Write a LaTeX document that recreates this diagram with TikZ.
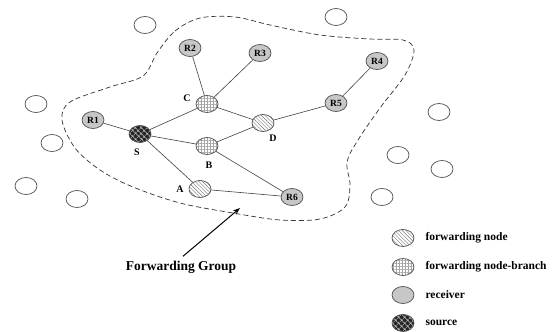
\documentclass[tikz,border=0pt]{standalone}
\usepackage{fontspec}
\setmainfont{Liberation Serif}
\usetikzlibrary{patterns,patterns.meta,arrows.meta,shapes.geometric}
\begin{document}
\begin{tikzpicture}[x=1pt,y=-1pt,
  nd/.style={ellipse, draw=black!70, line width=0.7pt, minimum width=22pt, minimum height=17pt, inner sep=0pt},
  rcv/.style={nd, fill=black!22, font=\bfseries\fontsize{9.5}{9.5}\selectfont},
  fwd/.style={nd, pattern={Lines[angle=-45,distance=2.6pt,line width=0.4pt]}, pattern color=black!55},
  brn/.style={nd, pattern={Hatch[angle=0,distance=3pt,line width=0.4pt]}, pattern color=black!35},
  src/.style={nd, preaction={fill=black!85}, pattern={Hatch[angle=45,distance=4pt,line width=0.6pt]}, pattern color=black!25},
  emp/.style={nd},
  edge/.style={draw=black!75, line width=0.6pt},
  lbl/.style={font=\bfseries\fontsize{10}{10}\selectfont},
  leg/.style={anchor=west, font=\bfseries\fontsize{11.5}{11.5}\selectfont}]
\useasboundingbox (0,0) rectangle (558,332);

% forwarding group boundary
\draw[black!80, line width=0.7pt, dash pattern=on 5pt off 3pt]
  plot[smooth cycle, tension=0.55] coordinates {
  (157,53) (175,31) (200,18) (235,17) (270,25) (320,35) (370,39) (403,40)
  (414,50) (405,75) (380,108) (358,140) (347,162) (350,185) (345,207)
  (320,219) (280,220) (233,213) (180,203) (133,187) (100,170) (75,148)
  (62,120) (70,102) (110,87) (143,76)};

% empty nodes
\node[emp] (e1) at (145,25) {};
\node[emp] (e2) at (336,17) {};
\node[emp] (e3) at (36,104) {};
\node[emp] (e4) at (52,143) {};
\node[emp] (e5) at (26,186) {};
\node[emp] (e6) at (77,199) {};
\node[emp] (e7) at (439,112) {};
\node[emp] (e8) at (398,155) {};
\node[emp] (e9) at (442,169) {};
\node[emp] (e10) at (382,197) {};

% network nodes
\node[rcv] (R1) at (93,120) {R1};
\node[rcv] (R2) at (190,48) {R2};
\node[rcv] (R3) at (260,53) {R3};
\node[rcv] (R4) at (377,61) {R4};
\node[rcv] (R5) at (336,103) {R5};
\node[rcv] (R6) at (292,197) {R6};
\node[src] (S) at (140,134) {};
\node[brn] (C) at (207,104) {};
\node[brn] (B) at (207,146) {};
\node[fwd] (D) at (263,123) {};
\node[fwd] (A) at (200,189) {};

\node[lbl] (lS) at (137,152) {S};
\node[lbl] (lC) at (187,98) {C};
\node[lbl] (lB) at (209,165) {B};
\node[lbl] (lD) at (273,138) {D};
\node[lbl] (lA) at (180,189) {A};

% edges
\draw[edge] (R2) -- (C);
\draw[edge] (R3) -- (C);
\draw[edge] (C) -- (S);
\draw[edge] (C) -- (D);
\draw[edge] (R1) -- (S);
\draw[edge] (S) -- (B);
\draw[edge] (S) -- (A);
\draw[edge] (B) -- (D);
\draw[edge] (B) -- (R6);
\draw[edge] (D) -- (R5);
\draw[edge] (R5) -- (R4);
\draw[edge] (A) -- (R6);

% forwarding group label
\node[font=\bfseries\fontsize{13.5}{13.5}\selectfont] (fg) at (181,267) {Forwarding Group};
\coordinate (fgtip) at (240,208);
\draw[line width=1pt, -{Stealth[length=7pt,width=5pt]}] (fg.north) ++(2,-1) -- (fgtip);

% legend
\node[fwd] (k1) at (403,238) {};
\node[brn] (k2) at (403,267) {};
\node[nd, fill=black!22] (k3) at (403,295) {};
\node[src] (k4) at (403,323) {};
\node[leg] (t1) at (422,238) {forwarding node};
\node[leg] (t2) at (422,267) {forwarding node-branch};
\node[leg] (t3) at (422,295) {receiver};
\node[leg] (t4) at (422,323) {source};
\end{tikzpicture}
\end{document}
